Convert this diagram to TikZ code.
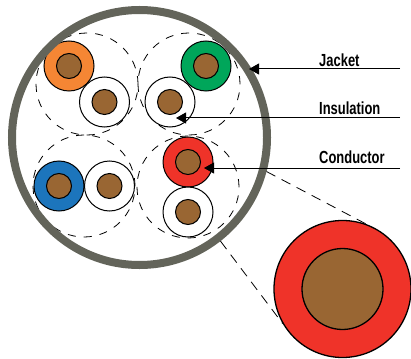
\documentclass[tikz,border=0pt]{standalone}
\usepackage{xcolor}
\usepackage{fontspec}
\usepackage{tikz}
\usetikzlibrary{arrows.meta}
\newfontfamily\labelfont[FakeStretch=0.74]{Liberation Sans}
\definecolor{jacketgray}{HTML}{63645A}
\definecolor{copper}{HTML}{996633}
\definecolor{pairorange}{HTML}{F58634}
\definecolor{pairgreen}{HTML}{00A65A}
\definecolor{pairblue}{HTML}{1C75BC}
\definecolor{pairred}{HTML}{EF3329}
\begin{document}
\begin{tikzpicture}[x=1pt,y=-1pt]
	\tikzstyle{pair}=[draw, circle, dash pattern=on 8pt off 8pt, line width=0.8pt, inner sep=0pt, minimum size=102pt]
	\tikzstyle{wire}=[draw, circle, line width=1pt, inner sep=0pt, minimum size=50pt, fill=white]
	\tikzstyle{core}=[draw, circle, line width=1pt, inner sep=0pt, minimum size=25pt, fill=copper]
	\tikzstyle{lead}=[line width=0.8pt, dash pattern=on 10pt off 7pt]
	\tikzstyle{callout}=[line width=1pt, -{Triangle[length=10pt,width=11pt]}]
	\tikzstyle{tag}=[anchor=base west, inner sep=0pt, font=\labelfont\bfseries\fontsize{17.5pt}{19pt}\selectfont]
	\useasboundingbox (0,0) rectangle (411,358);

	\node[pair] (pairA) at (87,84) {};
	\node[pair] (pairB) at (189,84) {};
	\node[pair] (pairC) at (84,186) {};
	\node[pair] (pairD) at (188,187) {};

	\node[wire, fill=pairorange] (orange) at (69,66) {};
	\node[core] (orangecore) at (orange) {};
	\node[wire] (orangemate) at (104.5,102) {};
	\node[core] (orangematecore) at (orangemate) {};

	\node[wire, fill=pairgreen] (green) at (206,66) {};
	\node[core] (greencore) at (green) {};
	\node[wire] (greenmate) at (170,102) {};
	\node[core] (greenmatecore) at (greenmate) {};

	\node[wire, fill=pairblue] (blue) at (59,186) {};
	\node[core] (bluecore) at (blue) {};
	\node[wire] (bluemate) at (109.5,186) {};
	\node[core] (bluematecore) at (bluemate) {};

	\node[wire, fill=pairred] (red) at (188,162) {};
	\node[core] (redcore) at (red) {};
	\node[wire] (redmate) at (188,212) {};
	\node[core] (redmatecore) at (redmate) {};

	\node[draw=jacketgray, circle, line width=8pt, inner sep=0pt, minimum size=255pt] (jacket) at (139.5,137.5) {};

	\node[draw, circle, line width=1.3pt, inner sep=0pt, minimum size=137pt, fill=pairred] (bigred) at (342.5,289) {};
	\node[draw, circle, line width=1.3pt, inner sep=0pt, minimum size=81pt, fill=copper] (bigcore) at (bigred) {};

	\path[lead]
		(jacket.-15.8) edge (bigred.70)
		(jacket.-52.6) edge (bigred.-150.6);

	\node[tag] (jackettag) at (319,66.5) {Jacket};
	\node[tag] (insulationtag) at (319,115) {Insulation};
	\node[tag] (conductortag) at (319,163.5) {Conductor};

	\coordinate (jacketfrom) at (400,69);
	\coordinate (jacketto) at (249,69);
	\coordinate (insulationfrom) at (400,118);
	\coordinate (insulationto) at (176,118);
	\coordinate (conductorfrom) at (400,168);
	\coordinate (conductorto) at (204,168);

	\draw[callout] (jacketfrom) -- (jacketto);
	\draw[callout] (insulationfrom) -- (insulationto);
	\draw[callout] (conductorfrom) -- (conductorto);
\end{tikzpicture}
\end{document}
